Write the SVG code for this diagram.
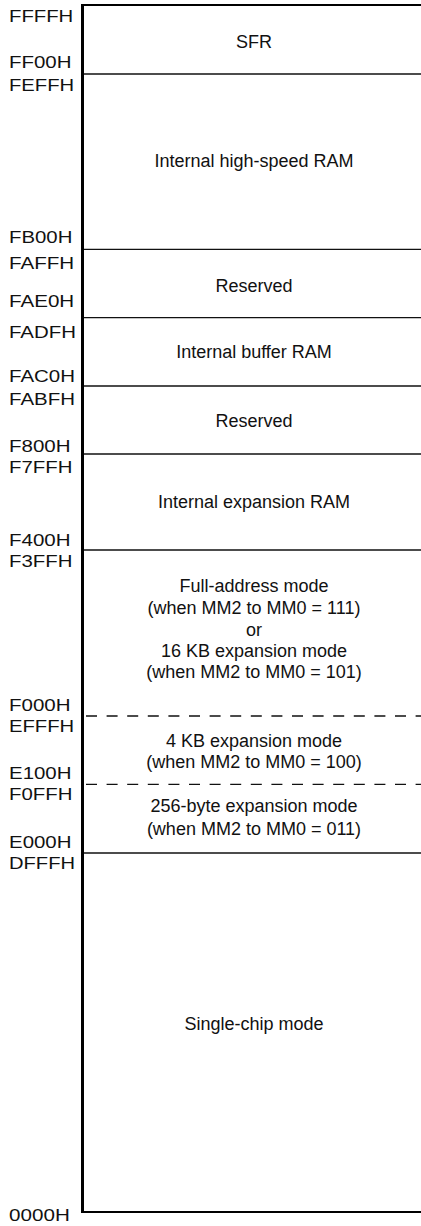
<svg xmlns="http://www.w3.org/2000/svg" width="421" height="1226" viewBox="0 0 421 1226">
<style>
.addr{font-family:"Liberation Sans",Arial,sans-serif;font-size:16px;fill:#111}
.lbl{font-family:"Liberation Sans",Arial,sans-serif;font-size:18px;text-anchor:middle;fill:#111}
.sep{stroke:#111;stroke-width:1.3;fill:none}
.dash{stroke:#111;stroke-width:1.3;fill:none;stroke-dasharray:11 9.6}
.frame{stroke:#000;fill:none}
</style>
<rect width="421" height="1226" fill="#fff"/>
<g id="frame">
<line class="frame" x1="82.5" y1="4" x2="82.5" y2="1213" stroke-width="3"/>
<line class="frame" x1="81" y1="5" x2="421" y2="5" stroke-width="2.2"/>
<line class="frame" x1="81" y1="1212" x2="421" y2="1212" stroke-width="2.2"/>
</g>
<g id="connectors">
<line class="sep" x1="84" y1="74" x2="421" y2="74"/>
<line class="sep" x1="84" y1="249.3" x2="421" y2="249.3"/>
<line class="sep" x1="84" y1="317.7" x2="421" y2="317.7"/>
<line class="sep" x1="84" y1="386" x2="421" y2="386"/>
<line class="sep" x1="84" y1="454" x2="421" y2="454"/>
<line class="sep" x1="84" y1="550" x2="421" y2="550"/>
<line class="dash" x1="86" y1="716" x2="421" y2="716"/>
<line class="dash" x1="86" y1="784.3" x2="421" y2="784.3"/>
<line class="sep" x1="84" y1="853" x2="421" y2="853"/>
</g>
<g id="n-sfr">
<text class="addr" x="9" y="22.3" textLength="64.3" lengthAdjust="spacingAndGlyphs">FFFFH</text>
<text class="lbl" x="254" y="48.3">SFR</text>
<text class="addr" x="9" y="68.3" textLength="62.5" lengthAdjust="spacingAndGlyphs">FF00H</text>
</g>
<g id="n-hsram">
<text class="addr" x="9" y="90.7" textLength="65.2" lengthAdjust="spacingAndGlyphs">FEFFH</text>
<text class="lbl" x="254" y="167">Internal high-speed RAM</text>
<text class="addr" x="9" y="243" textLength="63.4" lengthAdjust="spacingAndGlyphs">FB00H</text>
</g>
<g id="n-res1">
<text class="addr" x="9" y="269.3" textLength="65.2" lengthAdjust="spacingAndGlyphs">FAFFH</text>
<text class="lbl" x="254" y="291.7">Reserved</text>
<text class="addr" x="9" y="306.7" textLength="65.2" lengthAdjust="spacingAndGlyphs">FAE0H</text>
</g>
<g id="n-bufram">
<text class="addr" x="9" y="338.3" textLength="66.9" lengthAdjust="spacingAndGlyphs">FADFH</text>
<text class="lbl" x="254" y="358">Internal buffer RAM</text>
<text class="addr" x="9" y="381.7" textLength="66" lengthAdjust="spacingAndGlyphs">FAC0H</text>
</g>
<g id="n-res2">
<text class="addr" x="9" y="405" textLength="66" lengthAdjust="spacingAndGlyphs">FABFH</text>
<text class="lbl" x="254" y="427.3">Reserved</text>
<text class="addr" x="9" y="451.7" textLength="61.6" lengthAdjust="spacingAndGlyphs">F800H</text>
</g>
<g id="n-expram">
<text class="addr" x="9" y="473.3" textLength="63.4" lengthAdjust="spacingAndGlyphs">F7FFH</text>
<text class="lbl" x="254" y="508.3">Internal expansion RAM</text>
<text class="addr" x="9" y="545.7" textLength="61.6" lengthAdjust="spacingAndGlyphs">F400H</text>
</g>
<g id="n-full">
<text class="addr" x="9" y="567" textLength="63.4" lengthAdjust="spacingAndGlyphs">F3FFH</text>
<text class="lbl" x="254" y="592.3">Full-address mode</text>
<text class="lbl" x="254" y="614">(when MM2 to MM0 = 111)</text>
<text class="lbl" x="254" y="635.5">or</text>
<text class="lbl" x="254" y="656.7">16 KB expansion mode</text>
<text class="lbl" x="254" y="678">(when MM2 to MM0 = 101)</text>
<text class="addr" x="9" y="710.7" textLength="61.6" lengthAdjust="spacingAndGlyphs">F000H</text>
</g>
<g id="n-4kb">
<text class="addr" x="9" y="732" textLength="65.2" lengthAdjust="spacingAndGlyphs">EFFFH</text>
<text class="lbl" x="254" y="746.7">4 KB expansion mode</text>
<text class="lbl" x="254" y="768">(when MM2 to MM0 = 100)</text>
<text class="addr" x="9" y="779.3" textLength="62.5" lengthAdjust="spacingAndGlyphs">E100H</text>
</g>
<g id="n-256">
<text class="addr" x="9" y="800" textLength="63.4" lengthAdjust="spacingAndGlyphs">F0FFH</text>
<text class="lbl" x="254" y="812.3">256-byte expansion mode</text>
<text class="lbl" x="254" y="835">(when MM2 to MM0 = 011)</text>
<text class="addr" x="9" y="848.3" textLength="62.5" lengthAdjust="spacingAndGlyphs">E000H</text>
</g>
<g id="n-single">
<text class="addr" x="9" y="868.7" textLength="66" lengthAdjust="spacingAndGlyphs">DFFFH</text>
<text class="lbl" x="254" y="1030">Single-chip mode</text>
<text class="addr" x="9" y="1220.5" textLength="60.8" lengthAdjust="spacingAndGlyphs">0000H</text>
</g>
</svg>
